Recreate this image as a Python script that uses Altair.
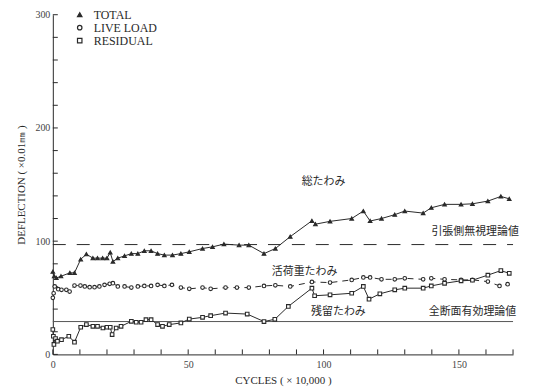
import altair as alt
import pandas as pd

# ---- data ----
total_x = [0, 0.5, 1.3, 3, 6.3, 8, 10.3, 12.4, 14.8, 16.5, 18.4, 20, 21.2, 22.2, 24, 26.5, 29, 31.4,
           33.8, 36.3, 38.7, 41.2, 44.2, 47.3, 50.4, 55.3, 59, 63.2, 68.8, 72.4, 78, 82.2, 87.7, 95.7,
           97, 102.4, 110.4, 114.7, 117.2, 121.4, 126.3, 130, 136.8, 139.8, 144.7, 150.8, 155, 160.7,
           165.5, 168.6]
total_y = [73, 69, 67.5, 69, 72, 72, 84, 88.5, 85, 85, 85, 85, 90, 82, 85, 87, 89, 89,
           91.5, 91.5, 89, 87.7, 87.7, 89, 90.6, 93.5, 95, 97.4, 96.5, 96.5, 89, 93.5, 104, 118,
           115, 117.5, 120, 126.6, 117.8, 120, 123.4, 126.6, 124.8, 129.5, 132.5, 132.5, 133, 135.4,
           139.5, 137.4]

live_x = [0, 0.3, 0.7, 2, 3.2, 5, 6.2, 8, 10.2, 11.8, 13.6, 15.4, 17.2, 19.1, 21, 22.2, 24, 26.5,
          29, 31.4, 33.8, 36.3, 38.7, 41.2, 44, 47.3, 50.4, 55.3, 58.3, 63.8, 68, 72.4, 78, 82.2,
          87.7, 95.7, 102.4, 110.4, 114.7, 117.2, 121.4, 126.3, 130, 136.8, 139.8, 144.7, 150.8,
          155, 160.7, 165, 168]
live_y = [50, 54, 60, 57.6, 57, 57, 55.5, 60.8, 60.8, 60, 59.4, 59.4, 60, 61.4, 62.3, 62.9, 60, 60,
          59, 60, 60.5, 60.5, 61.4, 60.5, 61.4, 59, 57.9, 59, 57.9, 59, 59, 59, 60.5, 61,
          60, 64, 63.4, 65.8, 68, 68, 66.3, 66.3, 67.2, 66.3, 67.2, 66.3, 65.8,
          65.8, 64.3, 60.5, 62]

resid_x = [0, 0.2, 0.4, 1, 1.7, 3.2, 5.9, 8, 10.3, 12.4, 14.8, 16.5, 18.5, 20, 21.2, 21.9, 23.4,
           25.2, 29, 30.8, 32.6, 34.4, 36.3, 38.7, 40.5, 43, 47.3, 50.4, 55.3, 58.3, 63.8, 71.8,
           78, 82, 87, 95.7, 96.7, 102.4, 110.4, 114.7, 116.8, 120.8, 126.3, 130, 136.8, 139.8,
           144.7, 150.8, 155, 160.7, 165.5, 168.6]
resid_y = [22, 16, 8.8, 14, 11.7, 13, 16, 10.8, 24, 26.3, 24.8, 24.8, 23.3, 24, 24, 17.5, 23.3,
           24.8, 29.2, 28.4, 28.4, 30.7, 30.7, 26.3, 24.8, 26.3, 27.8, 31.2, 32.7, 34.2, 36.5, 35.6,
           29, 31, 42.4, 58.5, 51.8, 52.6, 54, 60, 48.8, 53.5, 57, 58.5, 58.5, 60.5,
           62.8, 65, 65.5, 70, 74, 71.6]

series_names = ["TOTAL", "LIVE LOAD", "RESIDUAL"]

theory_names = ["引張側無視理論値", "全断面有効理論値"]
theory_vals = [97, 29]

note_text = ["総たわみ", "活荷重たわみ", "残留たわみ", "引張側無視理論値", "全断面有効理論値"]
note_x = [100, 93, 105.5, 156, 155]
note_y = [152, 73, 37.5, 108, 37.5]

x_ticks = list(range(0, 171, 10))
y_ticks = list(range(0, 301, 20))
x_labels = [0, 50, 100, 150]
y_labels = [0, 100, 200, 300]

# ---- build tables ----
rows = []
for name, xs, ys in zip(series_names, [total_x, live_x, resid_x], [total_y, live_y, resid_y]):
    for i, (a, b) in enumerate(zip(xs, ys)):
        rows.append({"series": name, "cycles": a, "defl": b, "idx": i})
df = pd.DataFrame(rows)

W, H = 462, 341
INK = "#2a2a2a"
SERIF = "Liberation Serif"

xscale = alt.Scale(domain=[0, 170], nice=False, zero=False)
yscale = alt.Scale(domain=[0, 300], nice=False)

x_axis = alt.Axis(values=x_labels, title="CYCLES ( × 10,000 )", ticks=False, grid=False,
                  labelFont=SERIF, labelFontSize=10, labelColor="#444", labelPadding=5,
                  titleFont=SERIF, titleFontSize=11, titleFontWeight="normal", titleColor=INK,
                  titlePadding=5, domainColor=INK, labelFlush=False)
y_axis = alt.Axis(values=y_labels, title="DEFLECTION ( ×0.01㎜ )", ticks=False, grid=False,
                  labelFont=SERIF, labelFontSize=10, labelColor="#444", labelPadding=3,
                  titleFont=SERIF, titleFontSize=11, titleFontWeight="normal", titleColor=INK,
                  titlePadding=8, domainColor=INK, labelFlush=False)

X = alt.X("cycles:Q", scale=xscale, axis=x_axis)
Y = alt.Y("defl:Q", scale=yscale, axis=y_axis)

legend = alt.Legend(title=None, orient="none", legendX=21, legendY=-6,
                    labelFont=SERIF, labelFontSize=12, labelColor=INK,
                    symbolSize=20, symbolStrokeWidth=1.2, rowPadding=1, labelOffset=8)

solid_lines = alt.Chart(df[df.series != "LIVE LOAD"]).mark_line(strokeWidth=1, color=INK).encode(
    x=X, y=Y, detail="series:N", order="idx:Q")
dashed_line = alt.Chart(df[df.series == "LIVE LOAD"]).mark_line(
    strokeWidth=1, color=INK, strokeDash=[6, 5]).encode(x=X, y=Y, order="idx:Q")

points = alt.Chart(df).mark_point(size=13, strokeWidth=1.1, opacity=1).encode(
    x=X, y=Y,
    shape=alt.Shape("series:N", scale=alt.Scale(domain=series_names,
                    range=["triangle-up", "circle", "square"]), legend=legend),
    fill=alt.Fill("series:N", scale=alt.Scale(domain=series_names,
                  range=[INK, "white", "white"]), legend=legend),
    stroke=alt.Stroke("series:N", scale=alt.Scale(domain=series_names,
                      range=[INK, INK, INK]), legend=legend),
)

ref_df = pd.DataFrame({"name": theory_names, "v": theory_vals})
ref_dash = alt.Chart(ref_df[ref_df.name == theory_names[0]]).mark_rule(
    strokeWidth=1, color=INK, strokeDash=[13, 11]).encode(
    y=alt.Y("v:Q", scale=yscale, axis=y_axis), x=alt.value(0), x2=alt.value(W))
ref_solid = alt.Chart(ref_df[ref_df.name == theory_names[1]]).mark_rule(
    strokeWidth=1, color="#555").encode(
    y=alt.Y("v:Q", scale=yscale, axis=y_axis), x=alt.value(0), x2=alt.value(W))

xt = alt.Chart(pd.DataFrame({"t": x_ticks})).mark_rule(color=INK, strokeWidth=1).encode(
    x=alt.X("t:Q", scale=xscale, axis=x_axis), y=alt.value(H), y2=alt.value(H - 5))
yt = alt.Chart(pd.DataFrame({"t": y_ticks})).mark_rule(color=INK, strokeWidth=1).encode(
    y=alt.Y("t:Q", scale=yscale, axis=y_axis), x=alt.value(0), x2=alt.value(5))

notes = alt.Chart(pd.DataFrame({"text": note_text, "nx": note_x, "ny": note_y})).mark_text(
    font="Noto Sans CJK JP", fontSize=11, color=INK).encode(
    x=alt.X("nx:Q", scale=xscale, axis=x_axis), y=alt.Y("ny:Q", scale=yscale, axis=y_axis),
    text="text:N")

chart = alt.layer(ref_dash, ref_solid, xt, yt, solid_lines, dashed_line, points, notes).properties(
    width=W, height=H,
    autosize=alt.AutoSizeParams(type="none"),
    padding={"left": 45, "top": 6, "right": 12, "bottom": 34},
    background="white",
).configure_view(stroke=None)

chart.save("out.html", embed_options={"renderer": "svg", "actions": False})
